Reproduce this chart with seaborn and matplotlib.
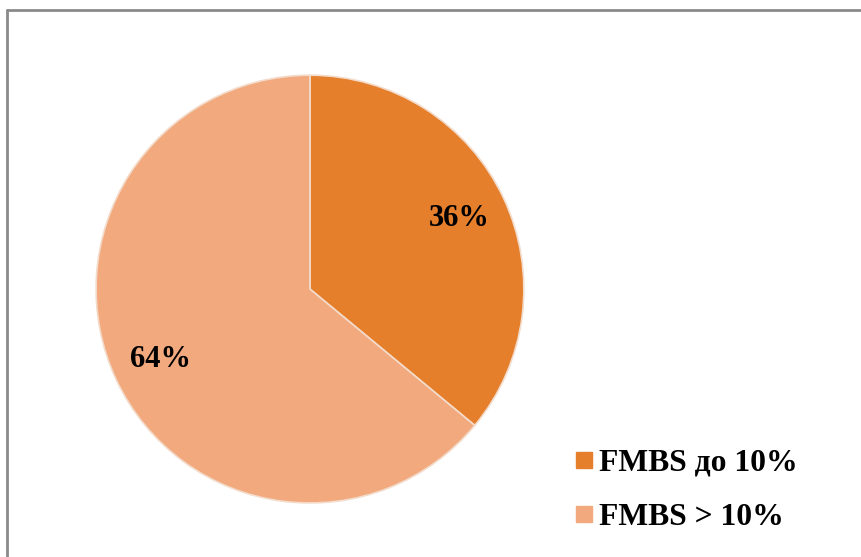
import matplotlib
matplotlib.use("Agg")
import matplotlib.pyplot as plt
from matplotlib.lines import Line2D
import seaborn as sns

categories = ["FMBS до 10%", "FMBS > 10%"]
shares = [36, 64]
colors = ["#E57F2C", "#F2A97E"]

sns.set_theme(style="white")
plt.rcParams["font.family"] = ["Liberation Serif", "DejaVu Serif"]
plt.rcParams["text.color"] = "black"

fig = plt.figure(figsize=(8.61, 5.57), dpi=100)
ax = fig.add_axes([0.1115, 0.097, 0.497, 0.768])

wedges, texts, autotexts = ax.pie(
    shares, colors=colors, startangle=90, counterclock=False,
    autopct="%d%%", pctdistance=0.77, radius=1,
    wedgeprops=dict(edgecolor="#F3DCCB", linewidth=1.2),
    textprops=dict(fontsize=22, fontweight="bold", color="black"),
)
ax.set_xlim(-1, 1)
ax.set_ylim(-1, 1)
ax.set_aspect("equal")
ax.axis("off")

handles = [Line2D([0], [0], marker="s", linestyle="", markersize=11,
                  markerfacecolor=c, markeredgecolor=c) for c in colors]
leg = fig.legend(handles, categories, loc="upper left", bbox_to_anchor=(0.652, 0.217),
                 frameon=False, handlelength=0.6, handletextpad=0.2, labelspacing=0.8,
                 borderaxespad=0, prop=dict(size=22.8, weight="bold"))
for t in leg.get_texts():
    t.set_color("black")

# chart border (top and left only visible)
fig.add_artist(Line2D([0.0087, 1.0], [0.982, 0.982], color="#8a8a8a", lw=2,
                      transform=fig.transFigure))
fig.add_artist(Line2D([0.0087, 0.0087], [0.982, 0.0], color="#8a8a8a", lw=2,
                      transform=fig.transFigure))

fig.savefig("out.png", dpi=100, facecolor="white")
